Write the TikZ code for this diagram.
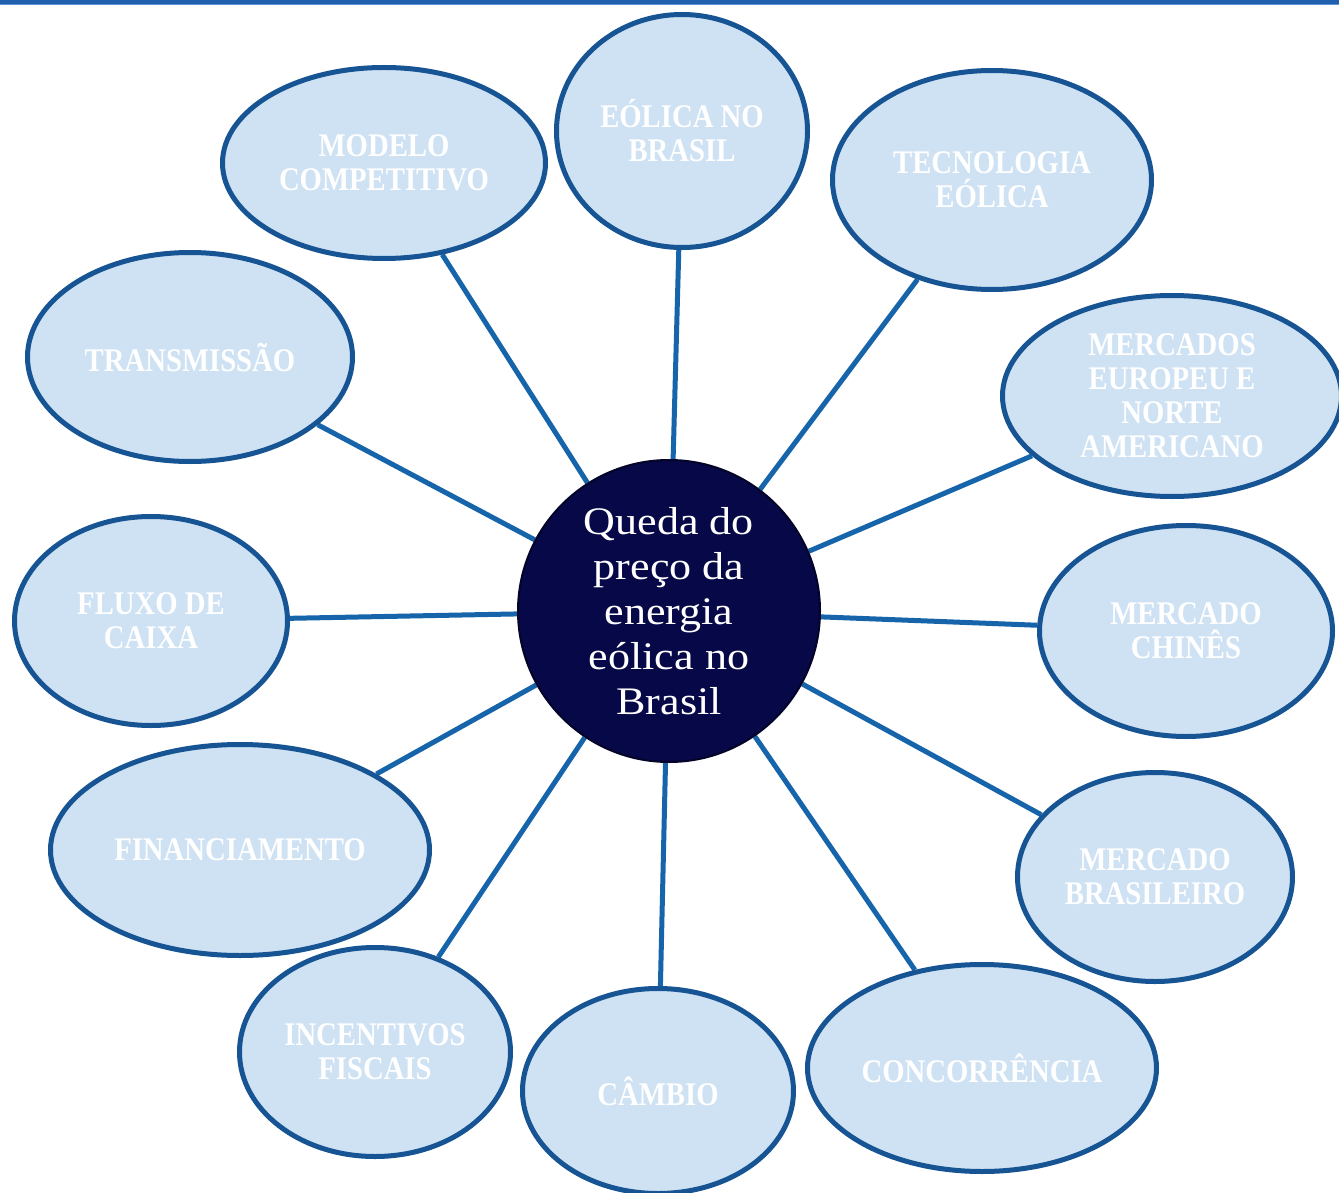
\documentclass[tikz,border=0pt]{standalone}
\usepackage{fontspec}
\usetikzlibrary{shapes.geometric}
\newfontfamily\labfont[FakeStretch=0.87]{Liberation Serif}
\newfontfamily\cenfont[FakeStretch=1.13]{Liberation Serif}
\definecolor{bubfill}{RGB}{207,226,243}
\definecolor{bubline}{RGB}{22,84,148}
\definecolor{conn}{RGB}{22,100,170}
\definecolor{navy}{RGB}{6,8,72}
\definecolor{barblue}{RGB}{33,95,175}
\definecolor{barlight}{RGB}{90,150,215}
\pgfdeclarelayer{background}
\pgfdeclarelayer{canvas}
\pgfsetlayers{canvas,background,main}
\tikzset{
  bub/.style={ellipse, fill=bubfill, draw=bubline, line width=5pt, inner sep=0pt,
    align=center, text=white, font=\labfont\bfseries\fontsize{33}{34}\selectfont},
  hub/.style={circle, fill=navy, draw={rgb,255:red,3;green,4;blue,40}, line width=2pt,
    minimum size=302pt, inner sep=0pt, align=center, text=white,
    font=\cenfont\fontsize{39}{45}\selectfont},
  conline/.style={draw=conn, line width=5pt}
}
\begin{document}
\begin{tikzpicture}[x=1pt,y=-1pt]
\useasboundingbox (0,0) rectangle (1339,1193);
\begin{pgfonlayer}{canvas}
\fill[white] (0,0) rectangle (1339,1193);
\end{pgfonlayer}
\begin{scope}
\clip (0,0) rectangle (1339,1193);
\fill[barblue] (0,0) rectangle (1339,4);
\fill[barlight] (0,4) rectangle (1339,5.5);

\node[hub] (c) at (669,611) {Queda do\\preço da\\energia\\eólica no\\Brasil};

\node[bub, minimum width=323pt, minimum height=191pt] (m1) at (384,163) {MODELO\\COMPETITIVO};
\node[bub, minimum width=251pt, minimum height=233pt] (m2) at (682,131) {EÓLICA NO\\BRASIL};
\node[bub, minimum width=319pt, minimum height=219pt] (m3) at (992,180) {TECNOLOGIA\\EÓLICA};
\node[bub, minimum width=339pt, minimum height=201pt] (m4) at (1172,396) {MERCADOS\\EUROPEU E\\NORTE\\AMERICANO};
\node[bub, minimum width=293pt, minimum height=211pt] (m5) at (1186,631) {MERCADO\\CHINÊS};
\node[bub, minimum width=275pt, minimum height=209pt] (m6) at (1155,877) {MERCADO\\BRASILEIRO};
\node[bub, minimum width=349pt, minimum height=207pt] (m7) at (982,1068) {CONCORRÊNCIA};
\node[bub, minimum width=271pt, minimum height=205pt] (m8) at (658,1091) {CÂMBIO};
\node[bub, minimum width=271pt, minimum height=209pt] (m9) at (375,1052) {INCENTIVOS\\FISCAIS};
\node[bub, minimum width=379pt, minimum height=211pt] (m10) at (240,850) {FINANCIAMENTO};
\node[bub, minimum width=273pt, minimum height=209pt] (m11) at (151,621) {FLUXO DE\\CAIXA};
\node[bub, minimum width=325pt, minimum height=209pt] (m12) at (190,357) {TRANSMISSÃO};

\begin{pgfonlayer}{background}
\foreach \n in {m1,m2,m3,m4,m5,m6,m7,m8,m9,m10,m11,m12}
  \draw[conline] (c) -- (\n);
\end{pgfonlayer}
\end{scope}
\end{tikzpicture}
\end{document}
